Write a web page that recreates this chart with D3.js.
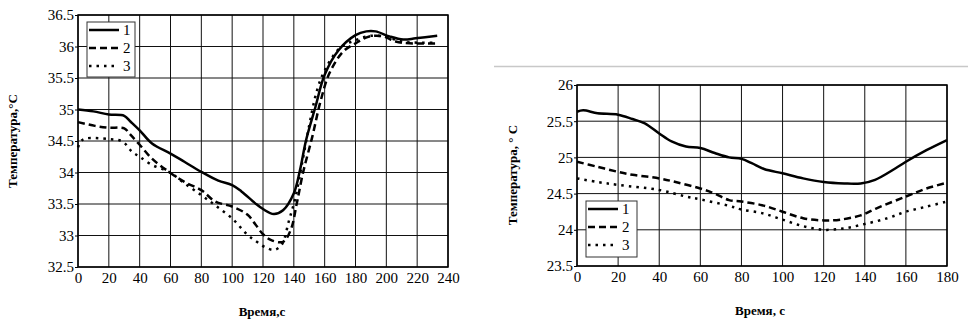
<!DOCTYPE html>
<html><head><meta charset="utf-8">
<script src="https://cdn.jsdelivr.net/npm/d3@7"></script>
<style>
body{margin:0;background:#fff;}
svg{display:block;font-family:"Liberation Serif","DejaVu Serif",serif;}
svg text{font-family:"Liberation Serif","DejaVu Serif",serif !important;}
</style></head>
<body><svg id="c" width="970" height="320"></svg>
<script>
// ---- Left chart data ----
const leftXTicks = [0,20,40,60,80,100,120,140,160,180,200,220,240];
const leftYTicks = [32.5,33,33.5,34,34.5,35,35.5,36,36.5];
const leftT1 = [0,10,20,30,34,40,48,60,69,80,91,100,106,115,120,127,133,140,144,148,154,160,169,180,187,193,202,211,219,233];
const leftV1 = [35.0,34.97,34.92,34.90,34.81,34.67,34.46,34.30,34.17,34.01,33.87,33.80,33.70,33.51,33.42,33.34,33.40,33.67,34.04,34.52,35.04,35.55,35.94,36.18,36.24,36.24,36.16,36.11,36.13,36.17];
const leftT2 = [0,11,20,30,34,40,48,59,69,80,89,100,110,115,120,125,133,138,142,146,152,157,163,172,180,189,198,206,215,233];
const leftV2 = [34.80,34.74,34.71,34.70,34.60,34.44,34.22,34.01,33.85,33.72,33.54,33.46,33.33,33.18,33.02,32.93,32.90,33.09,33.52,34.0,34.57,35.10,35.57,35.92,36.05,36.16,36.16,36.08,36.05,36.05];
const leftT3 = [0,2,5,20,29,35,40,48,59,69,80,89,100,110,116,121,127,132,137,141,145,150,155,160,170,180,190,200,210,220,233];
const leftV3 = [34.40,34.50,34.54,34.53,34.49,34.33,34.25,34.12,34.01,33.83,33.64,33.48,33.27,33.01,32.90,32.82,32.77,32.85,33.25,33.60,34.1,34.75,35.3,35.62,35.98,36.1,36.17,36.15,36.08,36.06,36.06];

// ---- Right chart data ----
const rightXTicks = [0,20,40,60,80,100,120,140,160,180];
const rightYTicks = [23.5,24,24.5,25,25.5,26];
const rightT1 = [0,3,10,20,27,33,40,46,53,60,67,74,80,85,91,100,110,120,130,138,145,155,160,170,180];
const rightV1 = [25.63,25.65,25.61,25.59,25.53,25.47,25.33,25.22,25.15,25.13,25.06,25.00,24.98,24.92,24.84,24.78,24.71,24.66,24.64,24.64,24.69,24.85,24.94,25.10,25.24];
const rightT2 = [0,10,20,27,40,48,60,67,74,80,90,100,110,120,128,138,146,160,170,180];
const rightV2 = [24.94,24.87,24.80,24.76,24.71,24.66,24.57,24.50,24.41,24.39,24.34,24.25,24.16,24.13,24.14,24.20,24.30,24.46,24.57,24.65];
const rightT3 = [0,10,20,40,53,60,74,80,90,100,110,120,130,140,151,160,170,180];
const rightV3 = [24.71,24.66,24.62,24.55,24.46,24.42,24.33,24.28,24.23,24.14,24.05,24.00,24.02,24.08,24.16,24.25,24.32,24.39];

const seriesNames = ["1","2","3"];
const dashes = [null,"7,4","2.5,5"];

const svg = d3.select("#c");

// right panel frame line
svg.append("line").attr("x1",494).attr("x2",968).attr("y1",66.5).attr("y2",66.5)
  .attr("stroke","#c8c8c8").attr("stroke-width",1.5);

function drawChart(o){
  const g = svg.append("g");
  const x = d3.scaleLinear().domain(o.xDomain).range([o.x0,o.x1]);
  const y = d3.scaleLinear().domain(o.yDomain).range([o.y1,o.y0]);
  // grid
  g.selectAll(".vg").data(o.xTicks).join("line")
    .attr("x1",d=>x(d)).attr("x2",d=>x(d)).attr("y1",o.y0).attr("y2",o.y1)
    .attr("stroke","#111").attr("stroke-width",1);
  g.selectAll(".hg").data(o.yTicks).join("line")
    .attr("x1",o.x0).attr("x2",o.x1).attr("y1",d=>y(d)).attr("y2",d=>y(d))
    .attr("stroke","#111").attr("stroke-width",1);
  g.append("rect").attr("x",o.x0).attr("y",o.y0).attr("width",o.x1-o.x0).attr("height",o.y1-o.y0)
    .attr("fill","none").attr("stroke","#000").attr("stroke-width",1.5);
  // axes labels
  const xa = d3.axisBottom(x).tickValues(o.xTicks).tickSize(0).tickPadding(5).tickFormat(d3.format("d"));
  const xg = g.append("g").attr("transform",`translate(0,${o.y1})`).call(xa);
  xg.attr("font-family",null).attr("font-size",null);
  xg.select(".domain").remove();
  xg.selectAll("text").style("font-size","15px").attr("fill","#000");
  const ya = d3.axisLeft(y).tickValues(o.yTicks).tickSize(3).tickPadding(1).tickFormat(d=>String(d));
  const yg = g.append("g").attr("transform",`translate(${o.x0},0)`).call(ya);
  yg.attr("font-family",null).attr("font-size",null);
  yg.select(".domain").remove();
  yg.selectAll("text").style("font-size","15px").attr("fill","#000");
  // lines
  const line = d3.line().x(d=>x(d[0])).y(d=>y(d[1])).curve(d3.curveCatmullRom);
  o.series.forEach((s,i)=>{
    g.append("path").datum(s.t.map((t,j)=>[t,s.v[j]]))
      .attr("d",line).attr("fill","none").attr("stroke","#000")
      .attr("stroke-width",2.5).attr("stroke-dasharray",dashes[i]);
  });
  // legend
  const L = o.legend;
  g.append("rect").attr("x",L.x).attr("y",L.y).attr("width",L.w).attr("height",L.h)
    .attr("fill","#fff").attr("stroke","#333").attr("stroke-width",1);
  seriesNames.forEach((nm,i)=>{
    const yy = L.y+8+i*18;
    g.append("line").attr("x1",L.x+2).attr("x2",L.x+32).attr("y1",yy).attr("y2",yy)
      .attr("stroke","#000").attr("stroke-width",2.5).attr("stroke-dasharray",dashes[i]);
    g.append("text").attr("x",L.x+36).attr("y",yy+5).style("font-size","15px").text(nm);
  });
  // titles
  g.append("text").attr("transform",`translate(${o.ytx},${o.yty}) rotate(-90)`)
    .attr("text-anchor","middle").style("font-size","13px").attr("font-weight","bold").text(o.yTitle);
  g.append("text").attr("x",o.xtx).attr("y",o.xty).attr("text-anchor","middle")
    .style("font-size","13px").attr("font-weight","bold").text(o.xTitle);
}

drawChart({
  x0:78,x1:448,y0:15,y1:267,xDomain:[0,240],yDomain:[32.5,36.5],
  xTicks:leftXTicks,yTicks:leftYTicks,
  series:[{t:leftT1,v:leftV1},{t:leftT2,v:leftV2},{t:leftT3,v:leftV3}],
  legend:{x:87,y:22,w:48,h:55},
  yTitle:"Температура,°С",ytx:17,yty:141,
  xTitle:"Время,с",xtx:262,xty:316
});
drawChart({
  x0:577,x1:947,y0:85,y1:266,xDomain:[0,180],yDomain:[23.5,26],
  xTicks:rightXTicks,yTicks:rightYTicks,
  series:[{t:rightT1,v:rightV1},{t:rightT2,v:rightV2},{t:rightT3,v:rightV3}],
  legend:{x:586,y:201,w:51,h:56},
  yTitle:"Температура, ° С",ytx:517,yty:175,
  xTitle:"Время, с",xtx:760,xty:315
});
</script></body></html>
